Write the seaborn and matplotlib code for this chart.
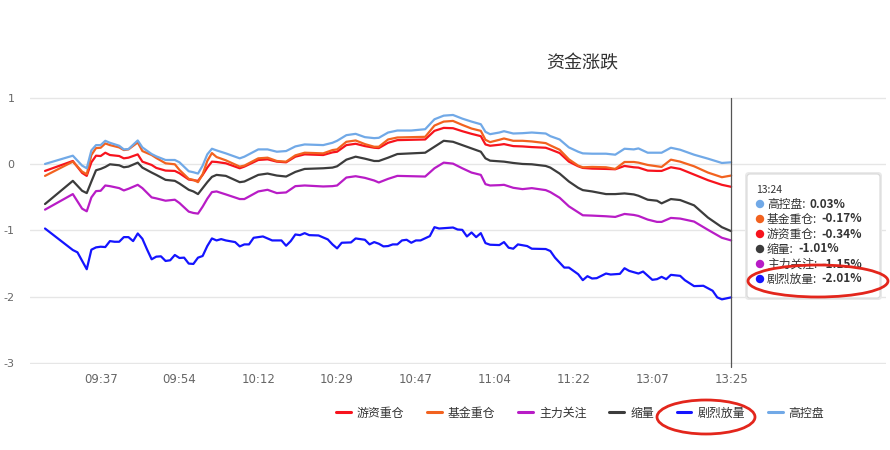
import matplotlib
matplotlib.use("Agg")
import matplotlib.pyplot as plt
import seaborn as sns
import pandas as pd
from matplotlib.lines import Line2D
from matplotlib.patches import Ellipse, FancyBboxPatch, Circle

sns.set_style("white")
plt.rcParams['font.family'] = ['Noto Sans CJK SC', 'DejaVu Sans']
plt.rcParams['axes.unicode_minus'] = False

# ---------------- data ----------------
series_names = ["游资重仓", "基金重仓", "主力关注", "缩量", "剧烈放量", "高控盘"]
series_colors = ["#f7131d", "#f2621f", "#b81cc6", "#3c3c3c", "#1414ff", "#71a9e7"]

tick_index = [12, 29, 46, 63, 80, 97, 114, 131, 148]
tick_labels = ["09:37", "09:54", "10:12", "10:29", "10:47", "11:04", "11:22", "13:07", "13:25"]

t_main = [0, 6, 8, 9, 10, 11, 12, 13, 14, 16,
          17, 18, 20, 21, 23, 24, 26, 28, 29, 31,
          32, 33, 34, 35, 36, 37, 39, 42, 43, 46,
          48, 50, 52, 54, 56, 60, 62, 63, 65, 67,
          69, 71, 72, 74, 76, 79, 82, 84, 86, 88,
          90, 92, 94, 95, 96, 98, 99, 101, 103, 105,
          108, 109, 111, 113, 115, 116, 118, 121, 123, 125,
          127, 128, 130, 132, 133, 135, 137, 140, 143, 146,
          148]

v_gaokongpan = [0.005, 0.13, -0.02, -0.06, 0.21, 0.29, 0.29, 0.355, 0.325, 0.28,
                0.225, 0.23, 0.36, 0.255, 0.155, 0.12, 0.065, 0.065, 0.03, -0.105,
                -0.12, -0.14, -0.02, 0.15, 0.235, 0.21, 0.165, 0.09, 0.115, 0.225,
                0.225, 0.19, 0.20, 0.27, 0.30, 0.29, 0.325, 0.355, 0.44, 0.46,
                0.41, 0.395, 0.40, 0.48, 0.51, 0.51, 0.53, 0.68, 0.735, 0.745,
                0.69, 0.645, 0.605, 0.49, 0.455, 0.48, 0.50, 0.465, 0.47, 0.48,
                0.465, 0.425, 0.375, 0.255, 0.19, 0.165, 0.16, 0.16, 0.145, 0.235,
                0.225, 0.24, 0.175, 0.175, 0.175, 0.25, 0.22, 0.145, 0.085, 0.02,
                0.03]

v_jijin = [-0.175, 0.04, -0.11, -0.15, 0.14, 0.245, 0.25, 0.315, 0.29, 0.255,
           0.215, 0.225, 0.33, 0.20, 0.14, 0.095, 0.015, 0.0, -0.085, -0.22,
           -0.235, -0.27, -0.15, 0.05, 0.17, 0.11, 0.06, -0.035, -0.02, 0.09,
           0.10, 0.05, 0.04, 0.135, 0.175, 0.165, 0.215, 0.225, 0.34, 0.36,
           0.305, 0.265, 0.265, 0.375, 0.405, 0.41, 0.415, 0.585, 0.645, 0.655,
           0.595, 0.54, 0.505, 0.37, 0.335, 0.37, 0.39, 0.355, 0.355, 0.345,
           0.32, 0.285, 0.22, 0.075, -0.02, -0.045, -0.04, -0.045, -0.07, 0.035,
           0.035, 0.025, -0.01, -0.03, -0.04, 0.07, 0.04, -0.03, -0.125, -0.195,
           -0.17]

v_youzi = [-0.10, 0.05, -0.13, -0.175, 0.03, 0.13, 0.125, 0.175, 0.14, 0.125,
           0.09, 0.10, 0.15, 0.04, -0.01, -0.055, -0.095, -0.10, -0.135, -0.23,
           -0.24, -0.25, -0.16, -0.05, 0.04, 0.035, 0.015, -0.06, -0.035, 0.065,
           0.075, 0.04, 0.03, 0.115, 0.15, 0.14, 0.18, 0.19, 0.29, 0.31,
           0.275, 0.25, 0.245, 0.325, 0.365, 0.37, 0.375, 0.505, 0.55, 0.545,
           0.50, 0.46, 0.425, 0.30, 0.28, 0.295, 0.305, 0.275, 0.27, 0.26,
           0.25, 0.225, 0.17, 0.04, -0.03, -0.055, -0.065, -0.07, -0.075, -0.025,
           -0.045, -0.05, -0.095, -0.10, -0.10, -0.045, -0.07, -0.155, -0.24, -0.31,
           -0.34]

v_suoliang = [-0.60, -0.25, -0.40, -0.435, -0.26, -0.09, -0.07, -0.04, 0.0, -0.015,
              -0.045, -0.035, 0.025, -0.05, -0.125, -0.16, -0.235, -0.25, -0.29, -0.385,
              -0.41, -0.45, -0.36, -0.27, -0.19, -0.16, -0.175, -0.27, -0.26, -0.16,
              -0.14, -0.17, -0.185, -0.115, -0.07, -0.06, -0.05, -0.03, 0.07, 0.115,
              0.085, 0.05, 0.05, 0.10, 0.155, 0.165, 0.175, 0.265, 0.355, 0.34,
              0.29, 0.24, 0.19, 0.09, 0.055, 0.045, 0.04, 0.02, 0.005, 0.0,
              -0.025, -0.05, -0.14, -0.26, -0.355, -0.39, -0.41, -0.45, -0.45, -0.44,
              -0.455, -0.475, -0.535, -0.55, -0.59, -0.525, -0.54, -0.62, -0.805, -0.95,
              -1.01]

v_zhuli = [-0.685, -0.45, -0.67, -0.71, -0.50, -0.405, -0.40, -0.32, -0.33, -0.36,
           -0.395, -0.37, -0.31, -0.36, -0.50, -0.515, -0.55, -0.535, -0.585, -0.715,
           -0.735, -0.745, -0.64, -0.52, -0.42, -0.41, -0.455, -0.525, -0.525, -0.41,
           -0.385, -0.435, -0.425, -0.33, -0.32, -0.335, -0.33, -0.32, -0.20, -0.18,
           -0.205, -0.245, -0.275, -0.22, -0.175, -0.18, -0.185, -0.06, 0.025, 0.01,
           -0.06, -0.125, -0.16, -0.30, -0.32, -0.315, -0.31, -0.355, -0.375, -0.36,
           -0.39, -0.42, -0.505, -0.635, -0.725, -0.77, -0.775, -0.785, -0.795, -0.75,
           -0.765, -0.78, -0.835, -0.87, -0.87, -0.81, -0.82, -0.865, -0.99, -1.11,
           -1.15]

t_fangliang = [0, 6, 7, 9, 10, 11, 12, 13, 14, 15,
               16, 17, 18, 19, 20, 21, 22, 23, 24, 25,
               26, 27, 28, 29, 30, 31, 32, 33, 34, 35,
               36, 37, 38, 39, 41, 42, 43, 44, 45, 47,
               49, 51, 52, 53, 54, 55, 56, 57, 59, 61,
               62, 63, 64, 66, 67, 69, 70, 71, 72, 73,
               74, 75, 76, 77, 78, 79, 80, 81, 83, 84,
               85, 87, 88, 89, 90, 91, 92, 93, 94, 95,
               96, 98, 99, 100, 101, 102, 104, 105, 108, 109,
               110, 112, 113, 115, 116, 117, 118, 119, 121, 122,
               124, 125, 126, 128, 129, 131, 132, 133, 134, 135,
               137, 138, 140, 142, 144, 145, 146, 148]

v_fangliang = [-0.97, -1.295, -1.33, -1.585, -1.29, -1.255, -1.245, -1.25, -1.16, -1.17,
               -1.17, -1.10, -1.10, -1.16, -1.045, -1.125, -1.285, -1.435, -1.395, -1.39,
               -1.46, -1.45, -1.37, -1.415, -1.41, -1.50, -1.505, -1.41, -1.385, -1.235,
               -1.12, -1.15, -1.13, -1.15, -1.175, -1.24, -1.21, -1.21, -1.11, -1.09,
               -1.15, -1.15, -1.23, -1.16, -1.06, -1.07, -1.04, -1.07, -1.075, -1.135,
               -1.21, -1.27, -1.185, -1.18, -1.12, -1.14, -1.21, -1.175, -1.20, -1.24,
               -1.235, -1.21, -1.21, -1.15, -1.14, -1.185, -1.15, -1.15, -1.085, -0.95,
               -0.97, -0.96, -0.955, -0.985, -0.99, -1.09, -1.03, -1.10, -1.04, -1.19,
               -1.215, -1.22, -1.175, -1.26, -1.275, -1.21, -1.235, -1.275, -1.28, -1.31,
               -1.41, -1.56, -1.56, -1.66, -1.75, -1.69, -1.725, -1.72, -1.65, -1.665,
               -1.655, -1.57, -1.61, -1.65, -1.62, -1.745, -1.735, -1.70, -1.735, -1.67,
               -1.685, -1.75, -1.84, -1.835, -1.91, -2.01, -2.04, -2.01]

y_ticks = [1, 0, -1, -2, -3]
y_tick_labels = ["1", "0", "-1", "-2", "-3"]

title = "资金涨跌"
tooltip_time = "13:24"
tooltip_names = ["高控盘", "基金重仓", "游资重仓", "缩量", "主力关注", "剧烈放量"]
tooltip_values = ["0.03%", "-0.17%", "-0.34%", "-1.01%", "-1.15%", "-2.01%"]
crosshair_index = 148

# ---------------- frame ----------------
frames = []
for name, vals in zip(["游资重仓", "基金重仓", "主力关注", "缩量", "高控盘"],
                      [v_youzi, v_jijin, v_zhuli, v_suoliang, v_gaokongpan]):
    frames.append(pd.DataFrame({"t": t_main, "v": vals, "series": name}))
frames.append(pd.DataFrame({"t": t_fangliang, "v": v_fangliang, "series": "剧烈放量"}))
df = pd.concat(frames, ignore_index=True)
palette = dict(zip(series_names, series_colors))

W, H = 890, 450
fig = plt.figure(figsize=(W / 100, H / 100), dpi=100)
fig.patch.set_facecolor("white")
ax = fig.add_axes([30 / W, 1 - 363.7 / H, (886 - 30) / W, (363.7 - 97.3) / H])

sns.lineplot(data=df, x="t", y="v", hue="series", hue_order=series_names,
             palette=palette, estimator=None, sort=False, linewidth=1.6,
             legend=False, ax=ax)

ax.set_xlim(-3.24, 181.4)
ax.set_ylim(-3.012, 1.012)
ax.set_yticks(y_ticks)
ax.set_yticklabels(y_tick_labels)
ax.set_xticks(tick_index)
ax.set_xticklabels(tick_labels)
ax.set_xlabel("")
ax.set_ylabel("")
for s in ax.spines.values():
    s.set_visible(False)
ax.grid(axis="y", color="#e6e6e6", linewidth=1.0)
ax.grid(axis="x", visible=False)
ax.set_axisbelow(True)
ax.tick_params(axis="y", length=0, pad=11, labelsize=8, labelcolor="#666666")
ax.tick_params(axis="x", length=0, pad=7, labelsize=8.5, labelcolor="#666666")
for lab in ax.get_xticklabels() + ax.get_yticklabels():
    lab.set_fontfamily(["DejaVu Sans"])

# crosshair
ax.plot([crosshair_index, crosshair_index], [-3.06, 1.0], color="#555555",
        linewidth=0.9, clip_on=False, zorder=5)

# title
fig.text(582 / W, 1 - 63 / H, title, ha="center", va="center",
         fontsize=13, color="#333333")

# legend
handles = [Line2D([], [], color=c, linewidth=2.2) for c in series_colors]
leg = fig.legend(handles, series_names, loc="center",
                 bbox_to_anchor=(580 / W, 1 - 413 / H), ncol=6, frameon=False,
                 fontsize=8.6, handlelength=1.25, handletextpad=0.5,
                 columnspacing=1.9)
for txt in leg.get_texts():
    txt.set_color("#333333")

# tooltip
tr = fig.dpi_scale_trans
def P(x, y):
    return (x / 100, (H - y) / 100)

shadow = FancyBboxPatch(P(745, 300), 1.37, 1.28,
                        boxstyle="round,pad=0,rounding_size=0.04",
                        fc="#e9e9e9", ec="none", transform=tr, zorder=6)
fig.add_artist(shadow)
box = FancyBboxPatch(P(747, 298), 1.33, 1.24,
                     boxstyle="round,pad=0,rounding_size=0.03",
                     fc="white", ec="#d8d8d8", lw=0.8, transform=tr, zorder=7)
fig.add_artist(box)
fig.text(756 / W, 1 - 190 / H, tooltip_time, fontsize=7.5, color="#333333",
         va="center", ha="left", zorder=8)
row_y = [204, 219, 234, 249, 264, 279]
for name, val, yy in zip(tooltip_names, tooltip_values, row_y):
    c = palette[name]
    fig.add_artist(Circle(P(760, yy), 0.035, color=c, transform=tr, zorder=8))
    t = fig.text(767 / W, 1 - yy / H, name + ":", fontsize=8.5,
                 color="#333333", va="center", ha="left", zorder=8)
    fig.add_artist(matplotlib.text.Annotation(
        val, xy=(1, 0.5), xycoords=t, xytext=(3, 0), textcoords="offset points",
        va="center", ha="left", fontsize=8.5, fontweight="bold",
        color="#333333", zorder=8))

# red hand-drawn highlight ellipses
fig.add_artist(Ellipse(P(818, 281), 1.40, 0.32, fill=False, ec="#e3261c",
                       lw=2.0, transform=tr, zorder=10))
fig.add_artist(Ellipse(P(706, 417), 0.98, 0.34, fill=False, ec="#e3261c",
                       lw=2.0, transform=tr, zorder=10))

fig.savefig("out.png", dpi=100)
